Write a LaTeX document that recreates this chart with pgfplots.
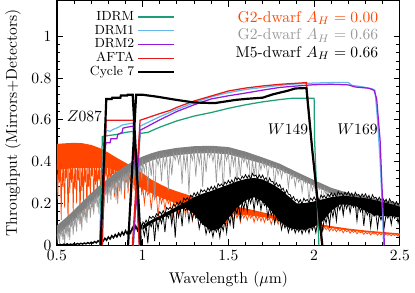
\documentclass[border=0pt]{standalone}
\usepackage{pgfplots}
\pgfplotsset{compat=1.18}
\definecolor{cidrm}{rgb}{0.11,0.62,0.47}
\definecolor{cdrmone}{rgb}{0.40,0.72,0.92}
\definecolor{cdrmtwo}{rgb}{0.58,0.10,0.86}
\definecolor{cafta}{rgb}{0.90,0.10,0.10}
\definecolor{corange}{rgb}{1.00,0.27,0.00}
\definecolor{cgray}{rgb}{0.50,0.50,0.50}
\definecolor{cgraylt}{rgb}{0.60,0.60,0.60}
\begin{document}
\begin{tikzpicture}
\begin{axis}[
  scale only axis, width=220pt, height=157pt,
  xmin=0.5, xmax=2.5, ymin=0, ymax=1.17,
  xtick={0.5,1,1.5,2,2.5}, ytick={0,0.2,0.4,0.6,0.8,1},
  minor x tick num=4, minor y tick num=4,
  tick pos=both, tick align=inside,
  axis line style={line width=0.8pt},
  every tick/.style={black, line width=0.6pt},
  major tick length=4pt, minor tick length=2.2pt,
  xlabel={Wavelength ($\mu$m)},
  ylabel={Throughput (Mirrors+Detectors)},
  unbounded coords=jump,
  legend cell align=right, legend plot pos=right,
  legend image code/.code={\draw[#1] (0pt,0pt) -- (23pt,0pt);},
  legend style={draw=none, fill=none, at={(0.36,0.975)}, anchor=north east,
    font=\fontsize{8.5}{8.5}\selectfont, row sep=0pt,
    nodes={inner ysep=0.6pt, text height=6pt, text depth=1.6pt}},
]
% ---------------- G2 dwarf A_H=0 (orange) ----------------
\addplot[fill=corange, draw=none, forget plot] coordinates {
(0.5,0.485)(0.55,0.488)(0.6,0.49)(0.65,0.488)(0.7,0.48)(0.75,0.465)(0.8,0.443)(0.85,0.418)(0.9,0.395)(0.95,0.372)(1.0,0.345)(1.05,0.315)(1.1,0.293)(1.15,0.273)(1.2,0.258)(1.3,0.232)(1.4,0.21)(1.5,0.192)(1.6,0.177)(1.7,0.158)(1.8,0.138)(1.9,0.122)(2.0,0.107)(2.1,0.092)(2.2,0.08)(2.3,0.071)(2.4,0.064)(2.5,0.057)
(2.5,0.05)(2.4,0.056)(2.3,0.063)(2.2,0.071)(2.1,0.082)(2.0,0.095)(1.9,0.108)(1.8,0.122)(1.7,0.135)(1.6,0.145)(1.5,0.15)(1.4,0.165)(1.3,0.18)(1.2,0.20)(1.1,0.23)(1.0,0.27)(0.9,0.34)(0.8,0.37)(0.7,0.37)(0.6,0.37)(0.5,0.36)};
\addplot[corange, line width=0.45pt, forget plot] table {
x y
0.500 0.39
0.505 0.22
0.510 0.39
0.515 0.30
0.520 0.39
0.525 0.12
0.530 0.39
0.535 0.28
0.540 0.39
0.545 0.18
0.550 0.39
0.555 0.32
0.560 0.39
0.565 0.08
0.570 0.39
0.575 0.25
0.580 0.39
0.585 0.30
0.590 0.39
0.595 0.15
0.600 0.39
0.605 0.27
0.610 0.39
0.615 0.20
0.620 0.39
0.625 0.31
0.630 0.39
0.635 0.10
0.640 0.39
0.645 0.26
0.650 0.39
0.655 0.19
0.660 0.39
0.665 0.30
0.670 0.39
0.675 0.14
0.680 0.39
0.685 0.28
0.690 0.39
0.695 0.22
0.700 0.39
0.705 0.33
0.710 0.39
0.715 0.17
0.720 0.39
0.725 0.29
0.730 0.39
0.735 0.24
0.740 0.39
0.745 0.31
0.750 0.39
0.755 0.20
0.760 0.39
0.765 0.30
0.770 0.39
0.775 0.26
0.780 0.39
0.785 0.33
0.790 0.39
0.795 0.21
0.800 0.39
0.805 0.32
0.810 0.388
0.815 0.27
0.820 0.386
0.825 0.34
0.830 0.384
0.835 0.23
0.840 0.382
0.845 0.30
0.850 0.38
0.855 0.20
0.860 0.376
0.865 0.31
0.870 0.372
0.875 0.26
0.880 0.368
0.885 0.32
0.890 0.364
0.895 0.22
0.900 0.36
0.905 0.30
0.910 0.354
0.915 0.25
0.920 0.348
0.925 0.31
0.930 0.342
0.935 0.19
0.940 0.336
0.945 0.30
0.950 0.33
0.955 0.26
0.960 0.324
0.965 0.29
0.970 0.318
0.975 0.22
0.980 0.312
0.985 0.28
0.990 0.306
0.995 0.24
1.00 0.29
1.01 0.20
1.02 0.272
1.03 0.24
1.04 0.264
1.05 0.17
1.06 0.256
1.07 0.22
1.08 0.248
1.09 0.13
1.10 0.24
1.11 0.20
1.12 0.234
1.13 0.17
1.14 0.228
1.15 0.20
1.16 0.222
1.17 0.12
1.18 0.216
1.19 0.18
1.20 0.21
1.21 0.15
1.22 0.206
1.23 0.18
1.24 0.202
1.25 0.14
1.26 0.198
1.27 0.17
1.28 0.194
1.29 0.12
1.30 0.19
1.31 0.16
1.32 0.187
1.33 0.14
1.34 0.184
1.35 0.16
1.36 0.181
1.37 0.13
1.38 0.178
1.39 0.15
1.40 0.175
1.41 0.11
1.42 0.172
1.43 0.15
1.44 0.169
1.45 0.13
1.46 0.166
1.47 0.14
1.48 0.163
1.49 0.10
1.50 0.16
1.51 0.14
1.52 0.158
1.53 0.12
1.54 0.156
1.55 0.13
1.56 0.154
1.57 0.11
1.58 0.152
1.59 0.13
1.60 0.15
1.61 0.12
1.62 0.148
1.63 0.13
1.64 0.146
1.65 0.11
1.66 0.144
1.67 0.12
1.68 0.142
1.69 0.115
1.70 0.14
1.71 0.11
1.72 0.135
1.73 0.12
1.74 0.13
1.75 0.10
1.76 0.13
1.77 0.115
1.78 0.125
1.79 0.10
1.80 0.123
1.81 0.105
1.82 0.12
1.83 0.095
1.84 0.117
1.85 0.10
1.86 0.113
1.87 0.09
1.88 0.11
1.89 0.095
1.90 0.108
1.91 0.085
1.92 0.105
1.93 0.09
1.94 0.10
1.95 0.08
1.96 0.099
1.97 0.085
1.98 0.097
1.99 0.08
2.00 0.095
2.01 0.075
2.02 0.092
2.03 0.08
2.04 0.09
2.05 0.07
2.06 0.088
2.07 0.075
2.08 0.085
2.09 0.068
2.10 0.082
2.11 0.07
2.12 0.08
2.13 0.065
2.14 0.078
2.15 0.068
2.16 0.076
2.17 0.06
2.18 0.074
2.19 0.065
2.20 0.072
2.21 0.058
2.22 0.07
2.23 0.062
2.24 0.068
2.25 0.055
2.26 0.067
2.27 0.06
2.28 0.065
2.29 0.052
2.30 0.063
2.31 0.055
2.32 0.062
2.33 0.05
2.34 0.06
2.35 0.053
2.36 0.059
2.37 0.048
2.38 0.058
2.39 0.05
2.40 0.056
2.41 0.047
2.42 0.055
2.43 0.048
2.44 0.054
2.45 0.045
2.46 0.053
2.47 0.047
2.48 0.052
2.49 0.044
2.50 0.05
};
% ---------------- G2 dwarf A_H=0.66 (gray) ----------------
\addplot[fill=cgray, draw=none, forget plot] coordinates {
(0.5,0.095)(0.55,0.13)(0.6,0.168)(0.65,0.21)(0.7,0.25)(0.75,0.287)(0.8,0.32)(0.85,0.352)(0.9,0.38)(0.95,0.405)(1.0,0.425)(1.05,0.44)(1.1,0.452)(1.2,0.466)(1.3,0.474)(1.4,0.476)(1.5,0.47)(1.6,0.448)(1.7,0.42)(1.8,0.39)(1.9,0.35)(2.0,0.312)(2.1,0.275)(2.2,0.25)(2.3,0.233)(2.4,0.217)(2.5,0.2)
(2.5,0.172)(2.4,0.189)(2.3,0.205)(2.2,0.222)(2.1,0.247)(2.0,0.284)(1.9,0.322)(1.8,0.362)(1.7,0.39)(1.6,0.413)(1.5,0.435)(1.4,0.441)(1.3,0.439)(1.2,0.431)(1.1,0.417)(1.05,0.405)(1.0,0.385)(0.95,0.355)(0.9,0.33)(0.85,0.302)(0.8,0.27)(0.75,0.237)(0.7,0.20)(0.65,0.16)(0.6,0.118)(0.55,0.08)(0.5,0.045)};
\addplot[cgraylt, line width=0.45pt, forget plot] table {
x y
0.500 .055
0.505 .025
0.510 .062
0.515 .010
0.520 .069
0.525 .049
0.530 .076
0.535 .026
0.540 .083
0.545 .005
0.550 .090
0.555 .060
0.560 .098
0.565 .038
0.570 .105
0.575 .025
0.580 .113
0.585 .093
0.590 .120
0.595 .050
0.600 .128
0.605 .098
0.610 .136
0.615 .066
0.620 .145
0.625 .125
0.630 .153
0.635 .103
0.640 .162
0.645 .072
0.650 .170
0.655 .140
0.660 .178
0.665 .118
0.670 .186
0.675 .106
0.680 .194
0.685 .174
0.690 .202
0.695 .132
0.700 .210
0.705 .180
0.710 .217
0.715 .147
0.720 .225
0.725 .205
0.730 .232
0.735 .182
0.740 .240
0.745 .150
0.750 .247
0.755 .217
0.760 .254
0.765 .194
0.770 .260
0.775 .180
0.780 .267
0.785 .247
0.790 .273
0.795 .203
0.800 .280
0.805 .250
0.810 .286
0.815 .216
0.820 .293
0.825 .273
0.830 .299
0.835 .249
0.840 .306
0.845 .216
0.850 .312
0.855 .282
0.860 .318
0.865 .258
0.870 .323
0.875 .243
0.880 .329
0.885 .309
0.890 .334
0.895 .264
0.900 .340
0.905 .310
0.910 .345
0.915 .275
0.920 .350
0.925 .330
0.930 .355
0.935 .305
0.940 .360
0.945 .270
0.950 .365
0.955 .335
0.960 .369
0.965 .309
0.970 .373
0.975 .293
0.980 .377
0.985 .357
0.990 .381
0.995 .311
1.00 .400
1.01 .350
1.02 .406
1.03 .256
1.04 .412
1.05 .332
1.06 .417
1.07 .217
1.08 .422
1.09 .382
1.10 .427
1.11 .307
1.12 .430
1.13 .370
1.14 .433
1.15 .263
1.16 .435
1.17 .335
1.18 .438
1.19 .408
1.20 .441
1.21 .391
1.22 .443
1.23 .293
1.24 .444
1.25 .364
1.26 .446
1.27 .246
1.28 .447
1.29 .407
1.30 .449
1.31 .329
1.32 .449
1.33 .389
1.34 .450
1.35 .280
1.36 .450
1.37 .350
1.38 .451
1.39 .421
1.40 .451
1.41 .401
1.42 .450
1.43 .300
1.44 .449
1.45 .369
1.46 .447
1.47 .247
1.48 .446
1.49 .406
1.50 .445
1.51 .325
1.52 .441
1.53 .381
1.54 .436
1.55 .266
1.56 .432
1.57 .332
1.58 .427
1.59 .397
1.60 .423
1.61 .373
1.62 .417
1.63 .267
1.64 .412
1.65 .332
1.66 .406
1.67 .206
1.68 .401
1.69 .361
1.70 .402
1.71 .372
1.72 .396
1.73 .326
1.74 .390
1.75 .370
1.76 .384
1.77 .284
1.78 .378
1.79 .338
1.80 .372
1.81 .322
1.82 .364
1.83 .344
1.84 .356
1.85 .276
1.86 .348
1.87 .318
1.88 .340
1.89 .280
1.90 .332
1.91 .302
1.92 .324
1.93 .254
1.94 .317
1.95 .297
1.96 .309
1.97 .209
1.98 .302
1.99 .262
2.00 .294
2.01 .244
2.02 .287
2.03 .267
2.04 .279
2.05 .199
2.06 .272
2.07 .242
2.08 .264
2.09 .204
2.10 .257
2.11 .227
2.12 .252
2.13 .182
2.14 .247
2.15 .227
2.16 .242
2.17 .142
2.18 .237
2.19 .197
2.20 .232
2.21 .182
2.22 .229
2.23 .209
2.24 .225
2.25 .145
2.26 .222
2.27 .192
2.28 .218
2.29 .158
2.30 .215
2.31 .185
2.32 .212
2.33 .142
2.34 .209
2.35 .189
2.36 .205
2.37 .150
2.38 .202
2.39 .162
2.40 .199
2.41 .149
2.42 .196
2.43 .176
2.44 .192
2.45 .140
2.46 .189
2.47 .159
2.48 .185
2.49 .125
2.50 .182
};
% ---------------- M5 dwarf (black) ----------------
\addplot[black, line width=0.9pt, forget plot] table {
x y
0.50 .004
0.51 .002
0.52 .005
0.53 .001
0.54 .006
0.55 .003
0.56 .007
0.57 .002
0.58 .006
0.59 .003
0.60 .008
0.61 .004
0.62 .009
0.63 .005
0.64 .010
0.65 .006
0.66 .011
0.67 .007
0.68 .013
0.69 .008
0.70 .015
0.71 .010
0.72 .018
0.73 .012
0.74 .022
0.75 .015
0.76 .028
0.77 .020
0.78 .034
0.79 .024
0.80 .040
0.81 .030
0.82 .046
0.83 .036
0.84 .052
0.85 .040
0.86 .058
0.87 .045
0.88 .064
0.89 .050
0.90 .070
0.91 .055
0.92 .076
0.93 .060
0.94 .084
0.95 .066
0.96 .092
0.97 .072
0.98 .100
0.99 .080
1.00 .108
};
\addplot[fill=black, draw=none, forget plot] coordinates {
(1.0,0.095)(1.05,0.12)(1.1,0.14)(1.15,0.163)(1.2,0.185)(1.25,0.207)(1.3,0.23)(1.35,0.247)(1.4,0.26)(1.45,0.275)(1.5,0.29)(1.55,0.305)(1.6,0.317)(1.65,0.322)(1.7,0.315)(1.75,0.295)(1.8,0.27)(1.85,0.235)(1.9,0.2)(1.95,0.203)(2.0,0.21)(2.05,0.22)(2.1,0.23)(2.15,0.235)(2.2,0.235)(2.25,0.23)(2.3,0.225)(2.35,0.217)(2.4,0.207)(2.45,0.197)(2.5,0.185)
(2.5,0.135)(2.45,0.14)(2.4,0.14)(2.35,0.145)(2.3,0.165)(2.25,0.185)(2.2,0.195)(2.15,0.195)(2.1,0.165)(2.05,0.115)(2.0,0.09)(1.95,0.075)(1.9,0.075)(1.85,0.085)(1.8,0.115)(1.75,0.165)(1.7,0.21)(1.65,0.23)(1.6,0.215)(1.55,0.18)(1.5,0.13)(1.45,0.08)(1.4,0.07)(1.35,0.10)(1.3,0.15)(1.25,0.18)(1.2,0.165)(1.15,0.145)(1.1,0.125)(1.05,0.105)(1.0,0.075)};
\addplot[black, line width=0.5pt, forget plot] table {
x y
1.00 .114
1.01 .101
1.02 .121
1.03 .104
1.04 .138
1.05 .129
1.06 .139
1.07 .128
1.08 .151
1.09 .142
1.10 .161
1.11 .148
1.12 .166
1.13 .149
1.14 .181
1.15 .172
1.16 .182
1.17 .172
1.18 .195
1.19 .187
1.20 .206
1.21 .192
1.22 .211
1.23 .193
1.24 .226
1.25 .216
1.26 .227
1.27 .216
1.28 .240
1.29 .231
1.30 .251
1.31 .236
1.32 .254
1.33 .235
1.34 .267
1.35 .256
1.36 .265
1.37 .252
1.38 .274
1.39 .263
1.40 .281
1.41 .266
1.42 .283
1.43 .264
1.44 .295
1.45 .284
1.46 .293
1.47 .281
1.48 .303
1.49 .293
1.50 .311
1.51 .296
1.52 .313
1.53 .294
1.54 .325
1.55 .314
1.56 .322
1.57 .310
1.58 .331
1.59 .321
1.60 .338
1.61 .321
1.62 .336
1.63 .315
1.64 .344
1.65 .331
1.66 .336
1.67 .319
1.68 .337
1.69 .322
1.70 .336
1.71 .314
1.72 .324
1.73 .298
1.74 .322
1.75 .304
1.76 .305
1.77 .285
1.78 .299
1.79 .281
1.80 .291
1.81 .266
1.82 .273
1.83 .244
1.84 .265
1.85 .244
1.86 .243
1.87 .221
1.88 .233
1.89 .213
1.90 .221
1.91 .204
1.92 .218
1.93 .197
1.94 .225
1.95 .212
1.96 .219
1.97 .206
1.98 .226
1.99 .215
2.00 .231
2.01 .215
2.02 .231
2.03 .211
2.04 .241
2.05 .229
2.06 .237
2.07 .224
2.08 .245
2.09 .234
2.10 .251
2.11 .234
2.12 .249
2.13 .228
2.14 .257
2.15 .244
2.16 .250
2.17 .235
2.18 .254
2.19 .241
2.20 .256
2.21 .237
2.22 .250
2.23 .227
2.24 .254
2.25 .239
2.26 .244
2.27 .228
2.28 .246
2.29 .232
2.30 .246
2.31 .226
2.32 .239
2.33 .215
2.34 .242
2.35 .226
2.36 .230
2.37 .213
2.38 .230
2.39 .215
2.40 .228
2.41 .208
2.42 .220
2.43 .196
2.44 .222
2.45 .206
2.46 .210
2.47 .192
2.48 .209
2.49 .193
2.50 .206
};
\addplot[black, line width=0.5pt, forget plot] table {
x y
1.00 .085
1.01 .045
1.02 .097
1.03 .010
1.04 .109
1.05 .089
1.06 .119
1.07 .020
1.08 .127
1.09 .077
1.10 .135
1.11 .105
1.12 .143
1.13 .063
1.14 .151
1.15 .131
1.16 .159
1.17 .099
1.18 .167
1.19 .037
1.20 .175
1.21 .135
1.22 .181
1.23 .091
1.24 .187
1.25 .167
1.26 .184
1.27 .114
1.28 .172
1.29 .122
1.30 .160
1.31 .130
1.32 .140
1.33 .080
1.34 .120
1.35 .100
1.36 .104
1.37 .054
1.38 .092
1.39 .062
1.40 .080
1.41 .040
1.42 .084
1.43 .064
1.44 .088
1.45 .038
1.46 .100
1.47 .070
1.48 .120
1.49 .060
1.50 .140
1.51 .100
1.52 .160
1.53 .080
1.54 .180
1.55 .150
1.56 .197
1.57 .127
1.58 .211
1.59 .171
1.60 .225
1.61 .165
1.62 .231
1.63 .201
1.64 .237
1.65 .167
1.66 .236
1.67 .196
1.68 .228
1.69 .168
1.70 .220
1.71 .190
1.72 .202
1.73 .132
1.74 .184
1.75 .144
1.76 .165
1.77 .105
1.78 .145
1.79 .115
1.80 .125
1.81 .075
1.82 .113
1.83 .083
1.84 .101
1.85 .061
1.86 .093
1.87 .073
1.88 .089
1.89 .059
1.90 .085
1.91 .065
1.92 .085
1.93 .055
1.94 .085
1.95 .065
1.96 .088
1.97 .058
1.98 .094
1.99 .074
2.00 .100
2.01 .060
2.02 .110
2.03 .080
2.04 .120
2.05 .070
2.06 .135
2.07 .105
2.08 .155
2.09 .095
2.10 .175
2.11 .135
2.12 .187
2.13 .117
2.14 .199
2.15 .169
2.16 .205
2.17 .145
2.18 .205
2.19 .175
2.20 .205
2.21 .155
2.22 .201
2.23 .181
2.24 .197
2.25 .117
2.26 .191
2.27 .161
2.28 .183
2.29 .093
2.30 .175
2.31 .145
2.32 .167
2.33 .087
2.34 .159
2.35 .139
2.36 .153
2.37 .083
2.38 .151
2.39 .121
2.40 .150
2.41 .090
2.42 .150
2.43 .130
2.44 .150
2.45 .100
2.46 .149
2.47 .129
2.48 .147
2.49 .107
2.50 .145
};
% ---------------- filter throughputs ----------------
\addplot[cidrm, line width=0.8pt] coordinates {
(0.75,0)(0.765,0.52)(0.80,0.525)(0.85,0.53)(0.90,0.54)(0.945,0.545)(0.982,0)
(0.96,nan)
(0.945,0)(0.985,0.535)(1.03,0.54)(1.1,0.565)(1.2,0.595)(1.3,0.618)(1.4,0.635)(1.5,0.655)(1.6,0.672)(1.7,0.686)(1.8,0.697)(1.87,0.703)(2.0,0.703)(2.003,0.5)(2.028,0)};
\addlegendentry{IDRM}
\addplot[cdrmone, line width=0.8pt] coordinates {
(0.75,0)(0.775,0.52)(0.79,0.55)(0.81,0.545)(0.83,0.555)(0.86,0.565)(0.88,0.575)(0.91,0.58)(0.945,0.585)(0.982,0)
(0.96,nan)
(0.945,0)(0.985,0.57)(1.1,0.615)(1.2,0.65)(1.3,0.682)(1.4,0.71)(1.5,0.73)(1.6,0.745)(1.7,0.755)(1.8,0.765)(1.9,0.772)(2.0,0.776)(2.1,0.778)(2.2,0.778)(2.22,0.765)(2.28,0.758)(2.34,0.748)(2.355,0.74)(2.37,0.6)(2.385,0.4)(2.4,0.15)(2.405,0)};
\addlegendentry{DRM1}
\addplot[cdrmtwo, line width=0.8pt] coordinates {
(0.75,0)(0.785,0.49)(0.81,0.49)(0.815,0.51)(0.85,0.51)(0.855,0.53)(0.88,0.54)(0.885,0.56)(0.91,0.565)(0.945,0.57)(0.982,0)
(0.96,nan)
(0.945,0)(0.985,0.55)(1.1,0.60)(1.2,0.64)(1.3,0.672)(1.4,0.70)(1.5,0.715)(1.6,0.728)(1.7,0.742)(1.8,0.755)(1.9,0.762)(2.0,0.768)(2.1,0.77)(2.2,0.767)(2.24,0.757)(2.32,0.751)(2.35,0.741)(2.365,0.70)(2.375,0.6)(2.385,0.5)(2.395,0.3)(2.405,0.1)(2.41,0)};
\addlegendentry{DRM2}
\addplot[cafta, line width=0.8pt] coordinates {
(0.765,0)(0.787,0.598)(0.946,0.598)(0.98,0)
(0.96,nan)
(0.94,0)(0.985,0.598)(1.0,0.602)(1.1,0.63)(1.16,0.645)(1.2,0.66)(1.3,0.69)(1.4,0.714)(1.5,0.738)(1.6,0.752)(1.7,0.762)(1.8,0.77)(1.9,0.775)(1.955,0.778)(1.99,0.45)(2.045,0)};
\addlegendentry{AFTA}
\addplot[black, line width=1.4pt] coordinates {
(0.755,0)(0.788,0.70)(0.82,0.70)(0.823,0.706)(0.87,0.706)(0.873,0.716)(0.91,0.716)(0.913,0.72)(0.942,0.72)(0.99,0)
(0.96,nan)
(0.915,0)(0.962,0.72)(1.0,0.72)(1.09,0.71)(1.2,0.695)(1.3,0.683)(1.42,0.68)(1.54,0.695)(1.6,0.70)(1.7,0.706)(1.76,0.722)(1.85,0.74)(1.89,0.75)(1.955,0.752)(1.99,0.45)(2.048,0)};
\addlegendentry{Cycle 7}
% ---------------- annotations ----------------
\node[corange, anchor=east] at (rel axis cs:0.953,0.930) {G2-dwarf $A_H = 0.00$};
\node[cgraylt, anchor=east] at (rel axis cs:0.953,0.857) {G2-dwarf $A_H = 0.66$};
\node[black, anchor=east] at (rel axis cs:0.953,0.787) {M5-dwarf $A_H = 0.66$};
\node at (axis cs:0.66,0.618) {$Z087$};
\node at (axis cs:1.848,0.555) {$W149$};
\node at (axis cs:2.253,0.555) {$W169$};
\end{axis}
\end{tikzpicture}
\end{document}
